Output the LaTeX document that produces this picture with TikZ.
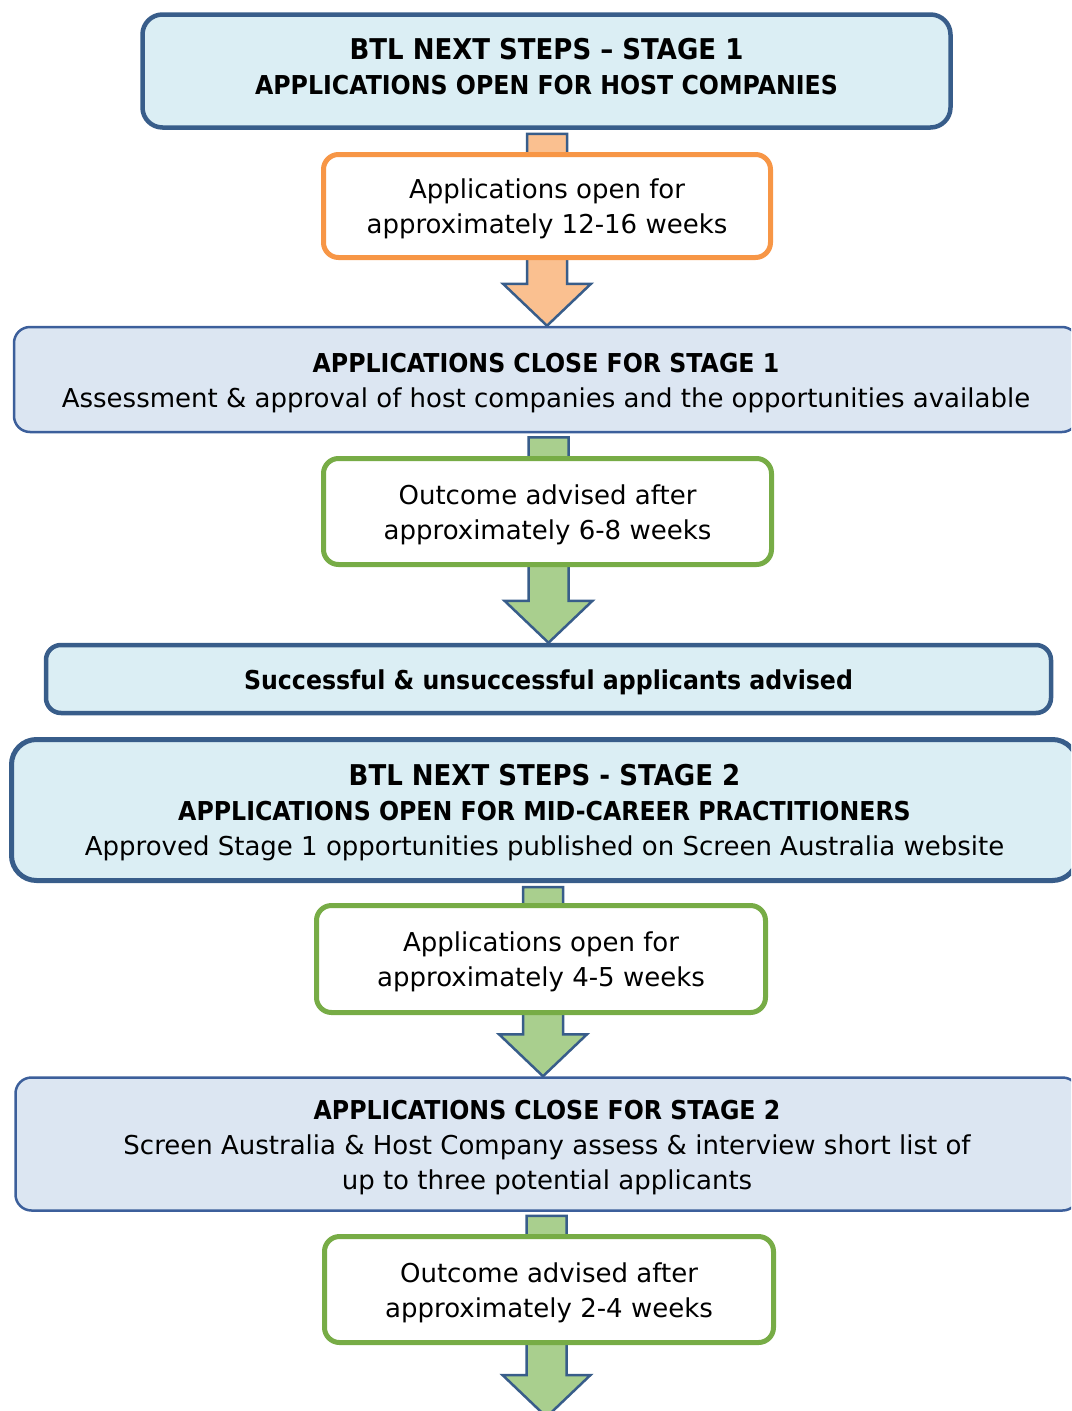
\documentclass[tikz,border=0pt]{standalone}
\usepackage{fontspec}
\setmainfont{DejaVu Sans}[BoldFeatures={FakeStretch=0.91}]
\usetikzlibrary{calc,backgrounds}

\newcommand{\titlesize}{\fontsize{28.6pt}{35pt}\selectfont}
\newcommand{\topline}{\rule{0pt}{26pt}}
\newcommand{\bigarrow}[4]{%
  \coordinate (ta) at (#3,0 |- #1);
  \coordinate (tb) at (#3,0 |- #2);
  \draw [flowarrow, fill={#4}] ($(ta)+(-20,4)$) -- ($(tb)+(-20,-42)$) -- ($(tb)+(-44,-42)$) -- (tb) -- ($(tb)+(44,-42)$) -- ($(tb)+(20,-42)$) -- ($(ta)+(20,4)$) -- cycle ;}

\tikzset{
  boxtext/.style={align=center, inner sep=0pt, text={rgb, 255:red, 0; green, 0; blue, 0 }, font=\fontsize{26pt}{35pt}\selectfont},
  stagebox/.style={boxtext, draw={rgb, 255:red, 56; green, 93; blue, 138 }, line width=4.5pt, fill={rgb, 255:red, 219; green, 238; blue, 244 }, rounded corners=20pt},
  closebox/.style={boxtext, draw={rgb, 255:red, 60; green, 95; blue, 155 }, line width=2.5pt, fill={rgb, 255:red, 220; green, 230; blue, 242 }, rounded corners=16pt},
  notebox/.style={boxtext, line width=5pt, fill=white, rounded corners=15pt},
  flowarrow/.style={draw={rgb, 255:red, 56; green, 93; blue, 138 }, line width=2.5pt, line join=miter}
}

\begin{document}
\begin{tikzpicture}[x=1pt,y=1pt,yscale=-1,xscale=1]
\useasboundingbox (0,0) rectangle (1071,1411);
\clip (0,0) rectangle (1071,1411);

%Rounded Rect: stage 1 header
\node [stagebox, minimum width=808pt, minimum height=113pt] (stageone) at (546.5,71)
  {\topline{\titlesize\textbf{BTL NEXT STEPS -- STAGE 1}}\\\textbf{APPLICATIONS OPEN FOR HOST COMPANIES}\rule[-15pt]{0pt}{15pt}};
%Rounded Rect: open 12-16 weeks
\node [notebox, draw={rgb, 255:red, 247; green, 150; blue, 70 }, minimum width=447pt, minimum height=103pt] (openone) at (547,206)
  {\topline Applications open for\\approximately 12-16 weeks};
%Rounded Rect: close stage 1
\node [closebox, minimum width=1064pt, minimum height=105pt] (closeone) at (546,379.5)
  {\topline\textbf{APPLICATIONS CLOSE FOR STAGE 1}\\Assessment \& approval of host companies and the opportunities available};
%Rounded Rect: outcome 6-8 weeks
\node [notebox, draw={rgb, 255:red, 119; green, 172; blue, 70 }, minimum width=448pt, minimum height=106pt] (outcomeone) at (547.5,511.5)
  {\topline Outcome advised after\\approximately 6-8 weeks};
%Rounded Rect: applicants advised
\node [stagebox, rounded corners=15pt, minimum width=1005pt, minimum height=68pt] (advised) at (548.5,679)
  {\topline\textbf{Successful \& unsuccessful applicants advised}};
%Rounded Rect: stage 2 header
\node [stagebox, line width=5pt, rounded corners=25pt, minimum width=1066pt, minimum height=141pt] (stagetwo) at (544.5,810)
  {\topline{\titlesize\textbf{BTL NEXT STEPS - STAGE 2}}\\\textbf{APPLICATIONS OPEN FOR MID-CAREER PRACTITIONERS}\\Approved Stage 1 opportunities published on Screen Australia website};
%Rounded Rect: open 4-5 weeks
\node [notebox, draw={rgb, 255:red, 119; green, 172; blue, 70 }, minimum width=449pt, minimum height=107pt] (opentwo) at (541,959)
  {\topline Applications open for\\approximately 4-5 weeks};
%Rounded Rect: close stage 2
\node [closebox, minimum width=1063pt, minimum height=133pt] (closetwo) at (547,1144)
  {\topline\textbf{APPLICATIONS CLOSE FOR STAGE 2}\\Screen Australia \& Host Company assess \& interview short list of\\up to three potential applicants};
%Rounded Rect: outcome 2-4 weeks
\node [notebox, draw={rgb, 255:red, 119; green, 172; blue, 70 }, minimum width=449pt, minimum height=106pt] (outcometwo) at (549,1289.5)
  {\topline Outcome advised after\\approximately 2-4 weeks};
\coordinate (arrowend) at (546.5,1417);

%Block arrows behind the boxes
\begin{scope}[on background layer]
\bigarrow{stageone.south}{closeone.north}{547}{rgb, 255:red, 250; green, 192; blue, 144 }
\bigarrow{closeone.south}{advised.north}{548.5}{rgb, 255:red, 169; green, 207; blue, 142 }
\bigarrow{stagetwo.south}{closetwo.north}{543}{rgb, 255:red, 169; green, 207; blue, 142 }
\bigarrow{closetwo.south}{arrowend}{546.5}{rgb, 255:red, 169; green, 207; blue, 142 }
\end{scope}

\end{tikzpicture}
\end{document}
